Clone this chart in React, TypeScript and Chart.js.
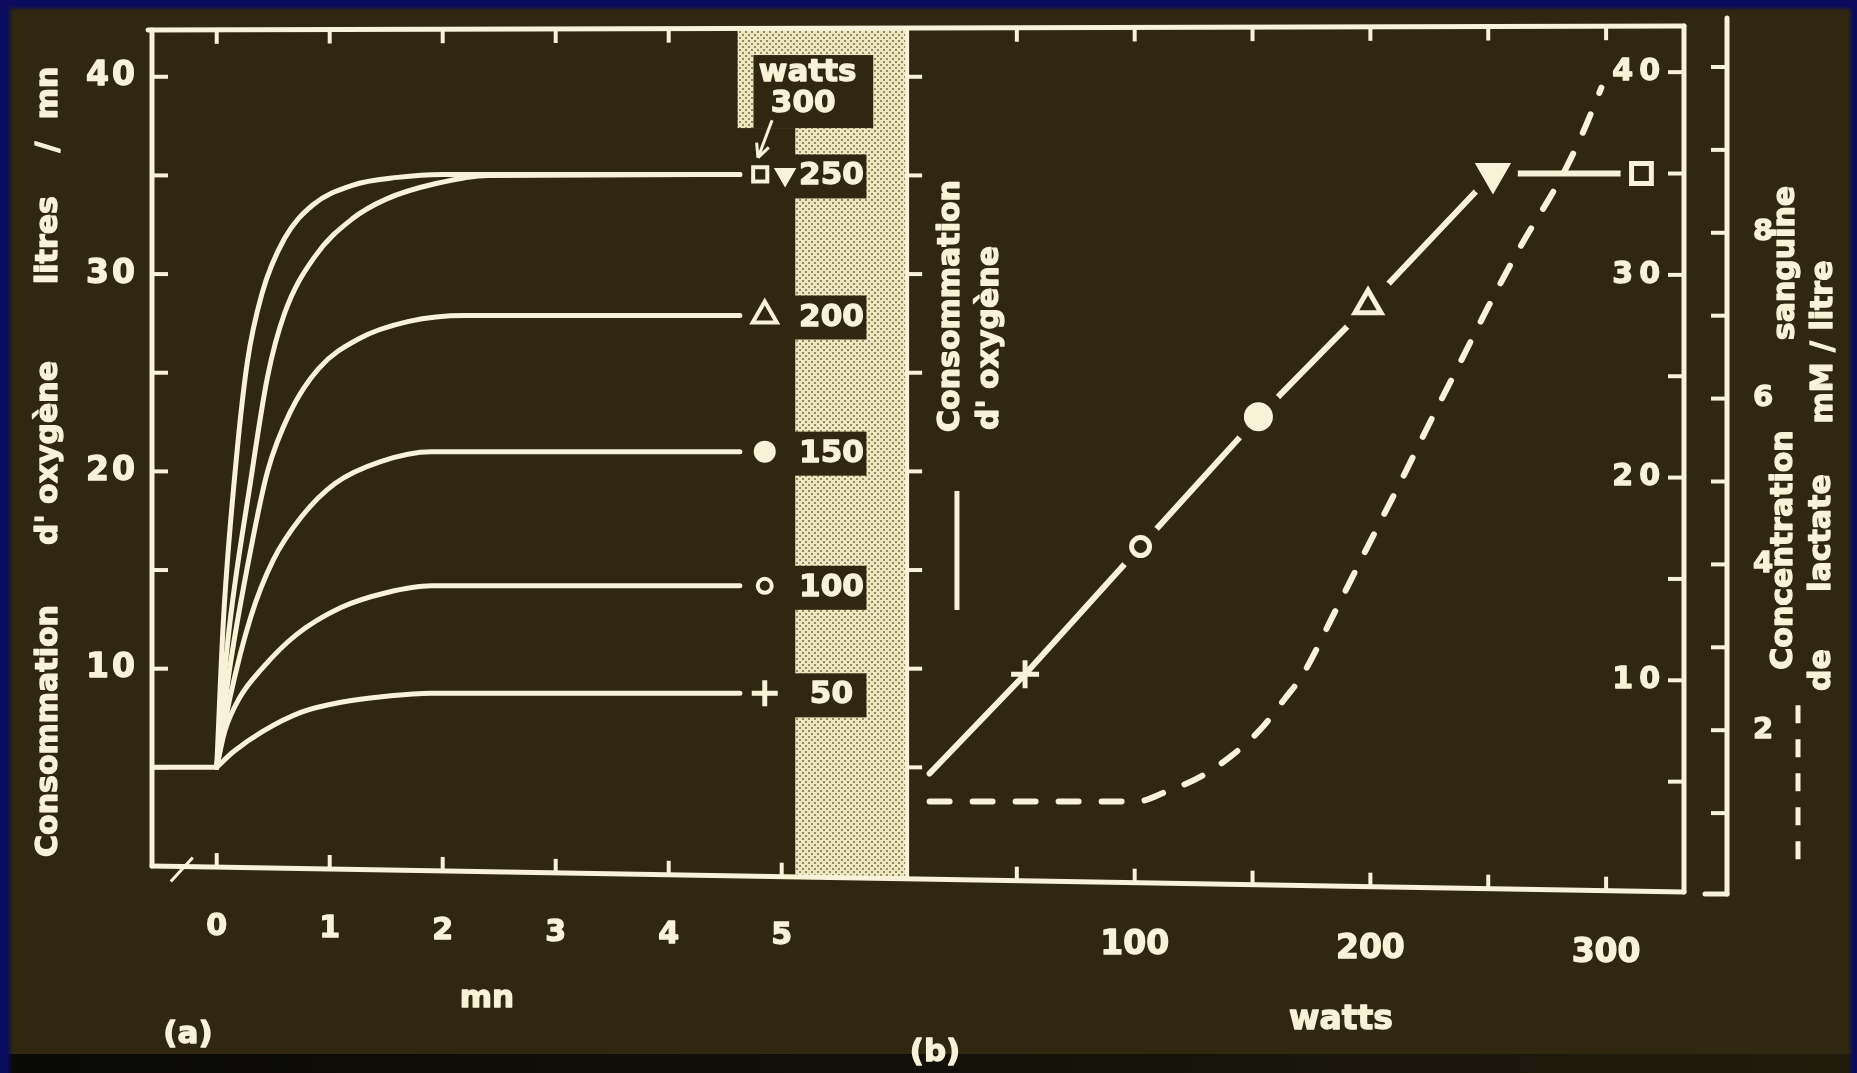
import React, { useEffect, useRef } from "react";
import { Chart, registerables } from "chart.js";

Chart.register(...registerables);

const CW = 1857;
const CH = 1073;
const BG = "#2f270f";
const INK = "#f7f2d8";
const NAVY = "#0b0b5e";
const FONT = '"DejaVu Sans", "Liberation Sans", sans-serif';
const bold = (px: number) => `bold ${px}px ${FONT}`;

// ---------- panel (a): consommation d'oxygène vs temps (mn) ----------
const minuteTicks = [0, 1, 2, 3, 4, 5];
const vo2Labels = [10, 20, 30, 40];
const vo2Marks = [5, 10, 15, 20, 25, 30, 35, 40];

const restTime = [-0.57, 0];
const restVO2 = [5, 5];

const t50 = [0, 0.15, 0.4, 0.75, 1.1, 1.5, 1.9, 4.63];
const v50 = [5, 5.8, 6.8, 7.8, 8.3, 8.6, 8.75, 8.75];
const t100 = [0, 0.07, 0.2, 0.4, 0.7, 1.1, 1.5, 1.9, 4.63];
const v100 = [5, 6.8, 8.5, 10.0, 11.7, 13.1, 13.85, 14.2, 14.2];
const t150 = [0, 0.12, 0.3, 0.5, 0.75, 1.05, 1.45, 1.9, 4.63];
const v150 = [5, 8.6, 12.6, 15.5, 17.7, 19.4, 20.5, 21.0, 21.0];
const t200 = [0, 0.12, 0.3, 0.45, 0.65, 0.9, 1.25, 1.7, 2.2, 4.63];
const v200 = [5, 10.2, 16.0, 20.0, 23.0, 25.2, 26.7, 27.6, 27.9, 27.9];
const t250 = [0, 0.1, 0.3, 0.45, 0.6, 0.87, 1.2, 1.5, 1.95, 2.4, 4.63];
const v250 = [5, 11.5, 19.5, 24.8, 28.0, 30.9, 32.8, 33.8, 34.6, 35.0, 35.05];
const t300 = [0, 0.06, 0.16, 0.27, 0.4, 0.6, 0.85, 1.2, 1.6, 2.0, 4.63];
const v300 = [5, 12.5, 19.8, 25.5, 29.0, 31.8, 33.5, 34.5, 34.9, 35.05, 35.05];

const loadLabels = ["50", "100", "150", "200", "250"];
const loadRowVO2 = [8.75, 14.2, 21.0, 27.9, 35.05];

const endMarkTime = [4.81, 5.03, 4.85, 4.85, 4.85, 4.85];
const endMarkVO2 = [35.05, 35.05, 27.9, 21.0, 14.2, 8.75];

// ---------- panel (b): consommation d'oxygène & lactate vs watts ----------
const wattMarks = [50, 100, 150, 200, 250, 300];
const wattLabels = [100, 200, 300];
const loadWatts = [13, 53.5, 102.5, 152.5, 199, 252, 315];
const vo2AtLoad = [5.4, 10.3, 16.6, 23.0, 28.5, 35, 35];
const lactWatts = [13, 60, 101, 113.5, 128.6, 141, 153.7, 163.7, 171.3, 185, 198.4, 212, 226.6, 238, 250.2, 264, 281, 290, 298];
const lactMM = [1.14, 1.14, 1.14, 1.26, 1.45, 1.69, 2.02, 2.38, 2.67, 3.43, 4.19, 4.95, 5.79, 6.43, 7.12, 7.85, 8.67, 9.2, 9.75];
const lactLabels = [2, 4, 6, 8];
const lactMarks = [1, 2, 3, 4, 5, 6, 7, 8, 9, 10];

const pts = (xs: number[], ys: number[]) => xs.map((x, i) => ({ x, y: ys[i] }));

const SEP_MIN = 6.11;

function geo(chart: any) {
  const a = chart.chartArea;
  const s = chart.scales;
  const yb0 = s.yA.getPixelForValue(0);
  const yb1 = s.yL.getPixelForValue(0) - 4;
  const span = a.right - a.left;
  const bottomAt = (x: number) => yb0 + ((yb1 - yb0) * (x - a.left)) / span;
  const topAt = (x: number) => a.top - (4 * (x - a.left)) / span;
  const sep = s.xA.getPixelForValue(SEP_MIN);
  const lactX = a.right + 43;
  return { a, s, bottomAt, topAt, sep, lactX };
}

function line(ctx: CanvasRenderingContext2D, x0: number, y0: number, x1: number, y1: number) {
  ctx.beginPath();
  ctx.moveTo(x0, y0);
  ctx.lineTo(x1, y1);
  ctx.stroke();
}

function txt(ctx: CanvasRenderingContext2D, s: string, x: number, y: number) {
  ctx.fillText(s, x, y);
  ctx.strokeText(s, x, y);
}

function vtext(ctx: CanvasRenderingContext2D, text: string, x: number, y: number, px = 30) {
  ctx.save();
  ctx.translate(x, y);
  ctx.rotate(-Math.PI / 2);
  ctx.font = bold(px);
  ctx.textAlign = "center";
  ctx.textBaseline = "middle";
  txt(ctx, text, 0, 0);
  ctx.restore();
}

let stipple: CanvasPattern | null = null;
function getStipple(ctx: CanvasRenderingContext2D) {
  if (stipple) return stipple;
  const c = document.createElement("canvas");
  c.width = 6;
  c.height = 6;
  const g = c.getContext("2d")!;
  g.fillStyle = "#ece6c2";
  g.fillRect(0, 0, 6, 6);
  g.fillStyle = "#968d5c";
  g.fillRect(1, 1, 2, 2);
  g.fillRect(4, 4, 2, 2);
  stipple = ctx.createPattern(c, "repeat");
  return stipple!;
}

const slidePlugin = {
  id: "slide",
  beforeDraw(chart: any) {
    const ctx: CanvasRenderingContext2D = chart.ctx;
    const { a, s, bottomAt, sep } = geo(chart);
    const W = chart.width;
    const H = chart.height;
    ctx.save();
    ctx.fillStyle = BG;
    ctx.fillRect(0, 0, W, H);
    // bottom dark band
    let g = ctx.createLinearGradient(0, 0, W, 0);
    g.addColorStop(0, "rgba(8,8,6,0.95)");
    g.addColorStop(0.5, "rgba(8,8,6,0.75)");
    g.addColorStop(1, "rgba(8,8,6,0.35)");
    ctx.fillStyle = g;
    ctx.fillRect(0, 1054, W, H - 1054);
    // navy edges
    g = ctx.createLinearGradient(0, 0, 0, 11);
    g.addColorStop(0, NAVY);
    g.addColorStop(0.55, NAVY);
    g.addColorStop(1, "rgba(11,11,94,0)");
    ctx.fillStyle = g;
    ctx.fillRect(0, 0, W, 11);
    g = ctx.createLinearGradient(0, 0, 13, 0);
    g.addColorStop(0, NAVY);
    g.addColorStop(0.55, NAVY);
    g.addColorStop(1, "rgba(11,11,94,0)");
    ctx.fillStyle = g;
    ctx.fillRect(0, 0, 13, H);
    g = ctx.createLinearGradient(W - 9, 0, W, 0);
    g.addColorStop(0, "rgba(11,11,94,0)");
    g.addColorStop(0.6, NAVY);
    ctx.fillStyle = g;
    ctx.fillRect(W - 9, 0, 9, H);

    // stippled band
    const sx0 = s.xA.getPixelForValue(4.61);
    const sx1 = s.xA.getPixelForValue(5.12);
    const syNotch = s.yA.getPixelForValue(37.4);
    ctx.fillStyle = getStipple(ctx);
    ctx.fillRect(sx0, a.top, sep - sx0, syNotch - a.top);
    ctx.beginPath();
    ctx.moveTo(sx1, a.top);
    ctx.lineTo(sep, a.top);
    ctx.lineTo(sep, bottomAt(sep));
    ctx.lineTo(sx1, bottomAt(sx1));
    ctx.closePath();
    ctx.fill();

    // dark label boxes
    ctx.fillStyle = BG;
    const bx0 = s.xA.getPixelForValue(4.75);
    const bx1 = s.xA.getPixelForValue(5.81);
    const by0 = s.yA.getPixelForValue(41.1);
    ctx.fillRect(bx0, by0, bx1 - bx0, syNotch - by0);
    const rx0 = s.xA.getPixelForValue(5.1);
    const rx1 = s.xA.getPixelForValue(5.75);
    loadRowVO2.forEach((v) => {
      const yc = s.yA.getPixelForValue(v) + 2;
      ctx.fillRect(rx0, yc - 22, rx1 - rx0, 44);
    });
    ctx.restore();
  },
  afterDatasetsDraw(chart: any) {
    const ctx: CanvasRenderingContext2D = chart.ctx;
    const { a, s, bottomAt, topAt, sep, lactX } = geo(chart);
    ctx.save();
    ctx.strokeStyle = INK;
    ctx.lineCap = "round";
    ctx.lineJoin = "round";
    ctx.lineWidth = 5;
    // frame
    line(ctx, a.left - 4, topAt(a.left - 4), a.right, topAt(a.right));
    line(ctx, a.left, topAt(a.left), a.left, bottomAt(a.left));
    line(ctx, a.left, bottomAt(a.left), a.right, bottomAt(a.right));
    line(ctx, a.right, topAt(a.right), a.right, bottomAt(a.right));
    ctx.lineWidth = 4;
    line(ctx, sep, topAt(sep), sep, bottomAt(sep));
    // lactate axis
    ctx.lineWidth = 5;
    const ly0 = s.yL.getPixelForValue(0) - 2;
    line(ctx, lactX, 18, lactX, ly0);
    line(ctx, lactX, ly0, lactX - 22, ly0);

    ctx.lineWidth = 4;
    ctx.lineCap = "butt";
    vo2Marks.forEach((v) => {
      const y = s.yA.getPixelForValue(v);
      line(ctx, a.left, y, a.left + 16, y);
      line(ctx, sep, y, sep + 15, y);
      const yr = s.yR.getPixelForValue(v);
      line(ctx, a.right - 16, yr, a.right, yr);
    });
    lactMarks.forEach((v) => {
      const y = s.yL.getPixelForValue(v);
      line(ctx, lactX - 16, y, lactX, y);
    });
    minuteTicks.forEach((t) => {
      const x = s.xA.getPixelForValue(t);
      const yb = bottomAt(x);
      line(ctx, x, yb, x, yb - 14);
      if (t < 5) {
        const yt = topAt(x);
        line(ctx, x, yt, x, yt + 14);
      }
    });
    wattMarks.forEach((w) => {
      const x = s.xB.getPixelForValue(w);
      const yb = bottomAt(x);
      line(ctx, x, yb, x, yb - 14);
      const yt = topAt(x);
      line(ctx, x, yt, x, yt + 14);
    });

    // axis break mark
    ctx.lineWidth = 3;
    const bk = s.xA.getPixelForValue(-0.3);
    line(ctx, bk - 12, bottomAt(bk) + 15, bk + 10, bottomAt(bk) - 9);

    // arrow from "300" to the square
    ctx.lineWidth = 3;
    const ax0 = s.xA.getPixelForValue(4.915);
    const ay0 = s.yA.getPixelForValue(37.8);
    const ax1 = s.xA.getPixelForValue(4.79);
    const ay1 = s.yA.getPixelForValue(35.9);
    line(ctx, ax0, ay0, ax1, ay1);
    const ang = Math.atan2(ay1 - ay0, ax1 - ax0);
    line(ctx, ax1, ay1, ax1 - 15 * Math.cos(ang - 0.45), ay1 - 15 * Math.sin(ang - 0.45));
    line(ctx, ax1, ay1, ax1 - 15 * Math.cos(ang + 0.45), ay1 - 15 * Math.sin(ang + 0.45));

    // legend marks: solid (O2) and dashed (lactate)
    ctx.lineWidth = 5;
    const lgx = s.xB.getPixelForValue(24.6);
    line(ctx, lgx, s.yR.getPixelForValue(19.34), lgx, s.yR.getPixelForValue(13.47));
    ctx.setLineDash([18, 16]);
    const dgx = lactX + 71;
    line(ctx, dgx, s.yL.getPixelForValue(2.3), dgx, s.yL.getPixelForValue(0.35));
    ctx.setLineDash([]);
    ctx.restore();
  },
  afterDraw(chart: any) {
    const ctx: CanvasRenderingContext2D = chart.ctx;
    const { a, s, bottomAt, lactX } = geo(chart);
    ctx.save();
    ctx.fillStyle = INK;
    ctx.strokeStyle = INK;
    ctx.lineWidth = 1.3;
    ctx.lineJoin = "round";
    ctx.textBaseline = "middle";

    // left y tick labels
    ctx.font = bold(33);
    ctx.textAlign = "right";
    (ctx as any).letterSpacing = "3px";
    vo2Labels.forEach((v) => txt(ctx, String(v), a.left - 14, s.yA.getPixelForValue(v)));
    // right inner y tick labels
    ctx.font = bold(30);
    (ctx as any).letterSpacing = "6px";
    vo2Labels.forEach((v) => txt(ctx, String(v), a.right - 18, s.yR.getPixelForValue(v)));
    (ctx as any).letterSpacing = "0px";
    // lactate labels
    ctx.font = bold(29);
    ctx.textAlign = "center";
    lactLabels.forEach((v) => txt(ctx, String(v), lactX + 36, s.yL.getPixelForValue(v)));

    // x tick labels
    ctx.font = bold(30);
    minuteTicks.forEach((t) => {
      const x = s.xA.getPixelForValue(t);
      txt(ctx, String(t), x, bottomAt(x) + 60);
    });
    ctx.font = bold(33);
    wattLabels.forEach((w) => {
      const x = s.xB.getPixelForValue(w);
      txt(ctx, String(w), x, bottomAt(x) + 63);
    });

    // axis names
    ctx.font = bold(31);
    txt(ctx, "mn", 487, 999);
    ctx.font = bold(33);
    txt(ctx, "watts", 1341, 1020);
    ctx.font = bold(31);
    txt(ctx, "(a)", 188, 1035);
    txt(ctx, "(b)", 935, 1053);

    // load labels in boxes
    ctx.font = bold(31);
    const lx = s.xA.getPixelForValue(5.44);
    loadLabels.forEach((lab, i) => {
      txt(ctx, lab, lx, s.yA.getPixelForValue(loadRowVO2[i]) + 2);
    });
    txt(ctx, "watts", s.xA.getPixelForValue(5.23), s.yA.getPixelForValue(40.2));
    txt(ctx, "300", s.xA.getPixelForValue(5.19), s.yA.getPixelForValue(38.6));

    // rotated titles
    vtext(ctx, "Consommation", 49, 731);
    vtext(ctx, "d' oxygène", 49, 453);
    vtext(ctx, "litres", 49, 240);
    vtext(ctx, "/", 49, 147);
    vtext(ctx, "mn", 49, 93);

    vtext(ctx, "Consommation", 951, 306);
    vtext(ctx, "d' oxygène", 990, 338);

    vtext(ctx, "Concentration", 1784, 550);
    vtext(ctx, "sanguine", 1786, 263);
    vtext(ctx, "de", 1822, 670);
    vtext(ctx, "lactate", 1822, 533);
    vtext(ctx, "mM / litre", 1824, 342);
    ctx.restore();
  },
};

const curveDs = (xs: number[], ys: number[]) => ({
  data: pts(xs, ys),
  xAxisID: "xA",
  yAxisID: "yA",
  borderColor: INK,
  borderWidth: 5,
  pointRadius: 0,
  cubicInterpolationMode: "monotone" as const,
  borderCapStyle: "round" as const,
  fill: false,
  order: 4,
});

export default function App() {
  const ref = useRef<HTMLCanvasElement>(null);
  useEffect(() => {
    const chart = new Chart(ref.current!, {
      type: "line",
      data: {
        datasets: [
          // panel (b) markers
          {
            data: pts(loadWatts.slice(1), vo2AtLoad.slice(1)),
            xAxisID: "xB",
            yAxisID: "yR",
            showLine: false,
            pointStyle: ["cross", "circle", "circle", "triangle", "triangle", "rect"] as any,
            pointRotation: [0, 0, 0, 0, 180, 0],
            pointRadius: [14, 9, 13, 15, 18, 14],
            pointHoverRadius: [14, 9, 13, 15, 18, 14],
            pointBorderWidth: [5, 5, 3, 5, 3, 5],
            pointBackgroundColor: [INK, BG, INK, BG, INK, BG],
            pointBorderColor: INK,
            order: 0,
          } as any,
          // gaps around markers
          {
            data: pts(loadWatts.slice(2), vo2AtLoad.slice(2)),
            xAxisID: "xB",
            yAxisID: "yR",
            showLine: false,
            pointStyle: "circle",
            pointRadius: [24, 28, 30, 25, 21],
            pointBorderWidth: 0,
            pointBackgroundColor: BG,
            pointBorderColor: BG,
            order: 1,
          } as any,
          // O2 uptake vs watts
          {
            data: pts(loadWatts, vo2AtLoad),
            xAxisID: "xB",
            yAxisID: "yR",
            borderColor: INK,
            borderWidth: 6,
            pointRadius: 0,
            tension: 0,
            borderCapStyle: "round",
            order: 2,
          } as any,
          // lactate (dashed)
          {
            data: pts(lactWatts, lactMM),
            xAxisID: "xB",
            yAxisID: "yL",
            borderColor: INK,
            borderWidth: 6,
            borderDash: [20, 23],
            borderCapStyle: "round",
            pointRadius: 0,
            cubicInterpolationMode: "monotone",
            order: 3,
          } as any,
          // panel (a)
          { ...curveDs(restTime, restVO2), cubicInterpolationMode: "default", tension: 0 } as any,
          curveDs(t50, v50) as any,
          curveDs(t100, v100) as any,
          curveDs(t150, v150) as any,
          curveDs(t200, v200) as any,
          curveDs(t250, v250) as any,
          curveDs(t300, v300) as any,
          {
            data: pts(endMarkTime, endMarkVO2),
            xAxisID: "xA",
            yAxisID: "yA",
            showLine: false,
            pointStyle: ["rect", "triangle", "triangle", "circle", "circle", "cross"] as any,
            pointRotation: [0, 180, 0, 0, 0, 0],
            pointRadius: [10, 10, 14, 10, 7, 13],
            pointBorderWidth: [4, 3, 4, 2, 4, 5],
            pointBackgroundColor: [BG, INK, BG, INK, BG, INK],
            pointBorderColor: INK,
            order: 0,
          } as any,
        ],
      },
      options: {
        responsive: false,
        animation: false,
        devicePixelRatio: 1,
        events: [],
        layout: { padding: { left: 152, top: 30, right: 173, bottom: 207 } },
        plugins: { legend: { display: false }, tooltip: { enabled: false } },
        scales: {
          xA: { type: "linear", axis: "x", display: false, min: -0.5726, max: 12.985 },
          xB: { type: "linear", axis: "x", display: false, min: -316.9, max: 333.05 },
          yA: { type: "linear", axis: "y", display: false, min: 0, max: 42.37 },
          yR: { type: "linear", axis: "y", display: false, min: 0.839, max: 42.08 },
          yL: { type: "linear", axis: "y", display: false, min: 0.362, max: 10.446 },
        } as any,
      },
      plugins: [slidePlugin as any],
    });
    return () => chart.destroy();
  }, []);

  return (
    <div style={{ position: "fixed", left: 0, top: 0, width: CW, height: CH, overflow: "hidden", background: BG }}>
      <canvas ref={ref} width={CW} height={CH} style={{ display: "block", width: CW, height: CH }} />
    </div>
  );
}
